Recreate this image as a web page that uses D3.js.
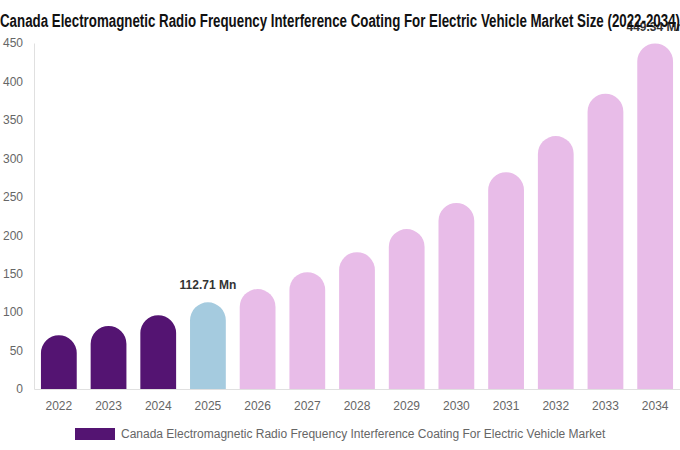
<!DOCTYPE html>
<html><head><meta charset="utf-8">
<script src="https://cdn.jsdelivr.net/npm/d3@7"></script>
<style>body{margin:0;background:#fff;}svg{display:block;}</style>
</head><body>
<svg id="c" width="680" height="450"></svg>
<script>
const years = ["2022","2023","2024","2025","2026","2027","2028","2029","2030","2031","2032","2033","2034"];
const values = [70, 82, 96, 112.71, 130, 152, 178, 208, 242, 282, 329, 384, 449.34];
const kinds = ["hist","hist","hist","base","fc","fc","fc","fc","fc","fc","fc","fc","fc"];
const yTicks = [0,50,100,150,200,250,300,350,400,450];
const labelled = {"2025":"112.71 Mn","2034":"449.34 Mn"};
const title = "Canada Electromagnetic Radio Frequency Interference Coating For Electric Vehicle Market Size (2022-2034)";
const legendLabel = "Canada Electromagnetic Radio Frequency Interference Coating For Electric Vehicle Market";
const colors = {hist:"#541472", base:"#a5cbdf", fc:"#e8bce8"};

const svg = d3.select("#c");
const m = {l:34, r:0, t:43, b:61};
const W = 680, H = 450;
const x = d3.scaleBand().domain(years).range([m.l, W - m.r]).paddingInner(0.28).paddingOuter(0.14);
const y = d3.scaleLinear().domain([0,450]).range([H - m.b, m.t]);

// axes
const ya = svg.append("g").attr("transform",`translate(${m.l},0)`)
  .call(d3.axisLeft(y).tickValues(yTicks).tickSize(0).tickPadding(11));
ya.select(".domain").attr("stroke","#e0e0e0");
ya.selectAll("text").attr("fill","#666").style("font-family","Liberation Sans, Arial, sans-serif").style("font-size","12px").attr("text-anchor","end").attr("dx","0");
const xa = svg.append("g").attr("transform",`translate(0,${H-m.b})`)
  .call(d3.axisBottom(x).tickSize(0).tickPadding(12));
xa.select(".domain").attr("stroke","#e0e0e0");
xa.selectAll("text").attr("fill","#666").style("font-family","Liberation Sans, Arial, sans-serif").style("font-size","12px");

// bars with rounded tops
function barPath(d, i){
  const w = x.bandwidth(), x0 = x(years[i]), y0 = y(0), yt = y(d);
  const r = Math.min(w/2, y0 - yt);
  return `M${x0},${y0}V${yt + r}A${r},${r} 0 0 1 ${x0 + r},${yt}H${x0 + w - r}A${r},${r} 0 0 1 ${x0 + w},${yt + r}V${y0}Z`;
}
svg.append("g").selectAll("path").data(values).join("path")
  .attr("d", barPath).attr("fill", (d,i) => colors[kinds[i]]);

// value labels
svg.append("g").selectAll("text").data(years.filter(yv => labelled[yv])).join("text")
  .attr("x", yv => x(yv) + x.bandwidth()/2)
  .attr("y", yv => y(values[years.indexOf(yv)]) - 13)
  .attr("text-anchor","middle")
  .attr("fill","#333").style("font-family","Liberation Sans, Arial, sans-serif")
  .style("font-size","12px").style("font-weight","bold")
  .text(yv => labelled[yv]);

// title
svg.append("text").attr("x", 0).attr("y", 27)
  .attr("textLength", 680).attr("lengthAdjust","spacingAndGlyphs")
  .style("font-family","Liberation Sans Narrow, Arial Narrow, Liberation Sans, sans-serif")
  .style("font-size","18px").style("font-weight","bold").attr("fill","#111")
  .text(title);

// legend
svg.append("rect").attr("x",75).attr("y",428).attr("width",40).attr("height",12).attr("fill",colors.hist);
svg.append("text").attr("x",121).attr("y",438).attr("fill","#666")
  .style("font-family","Liberation Sans, Arial, sans-serif").style("font-size","12px")
  .text(legendLabel);
</script>
</body></html>
